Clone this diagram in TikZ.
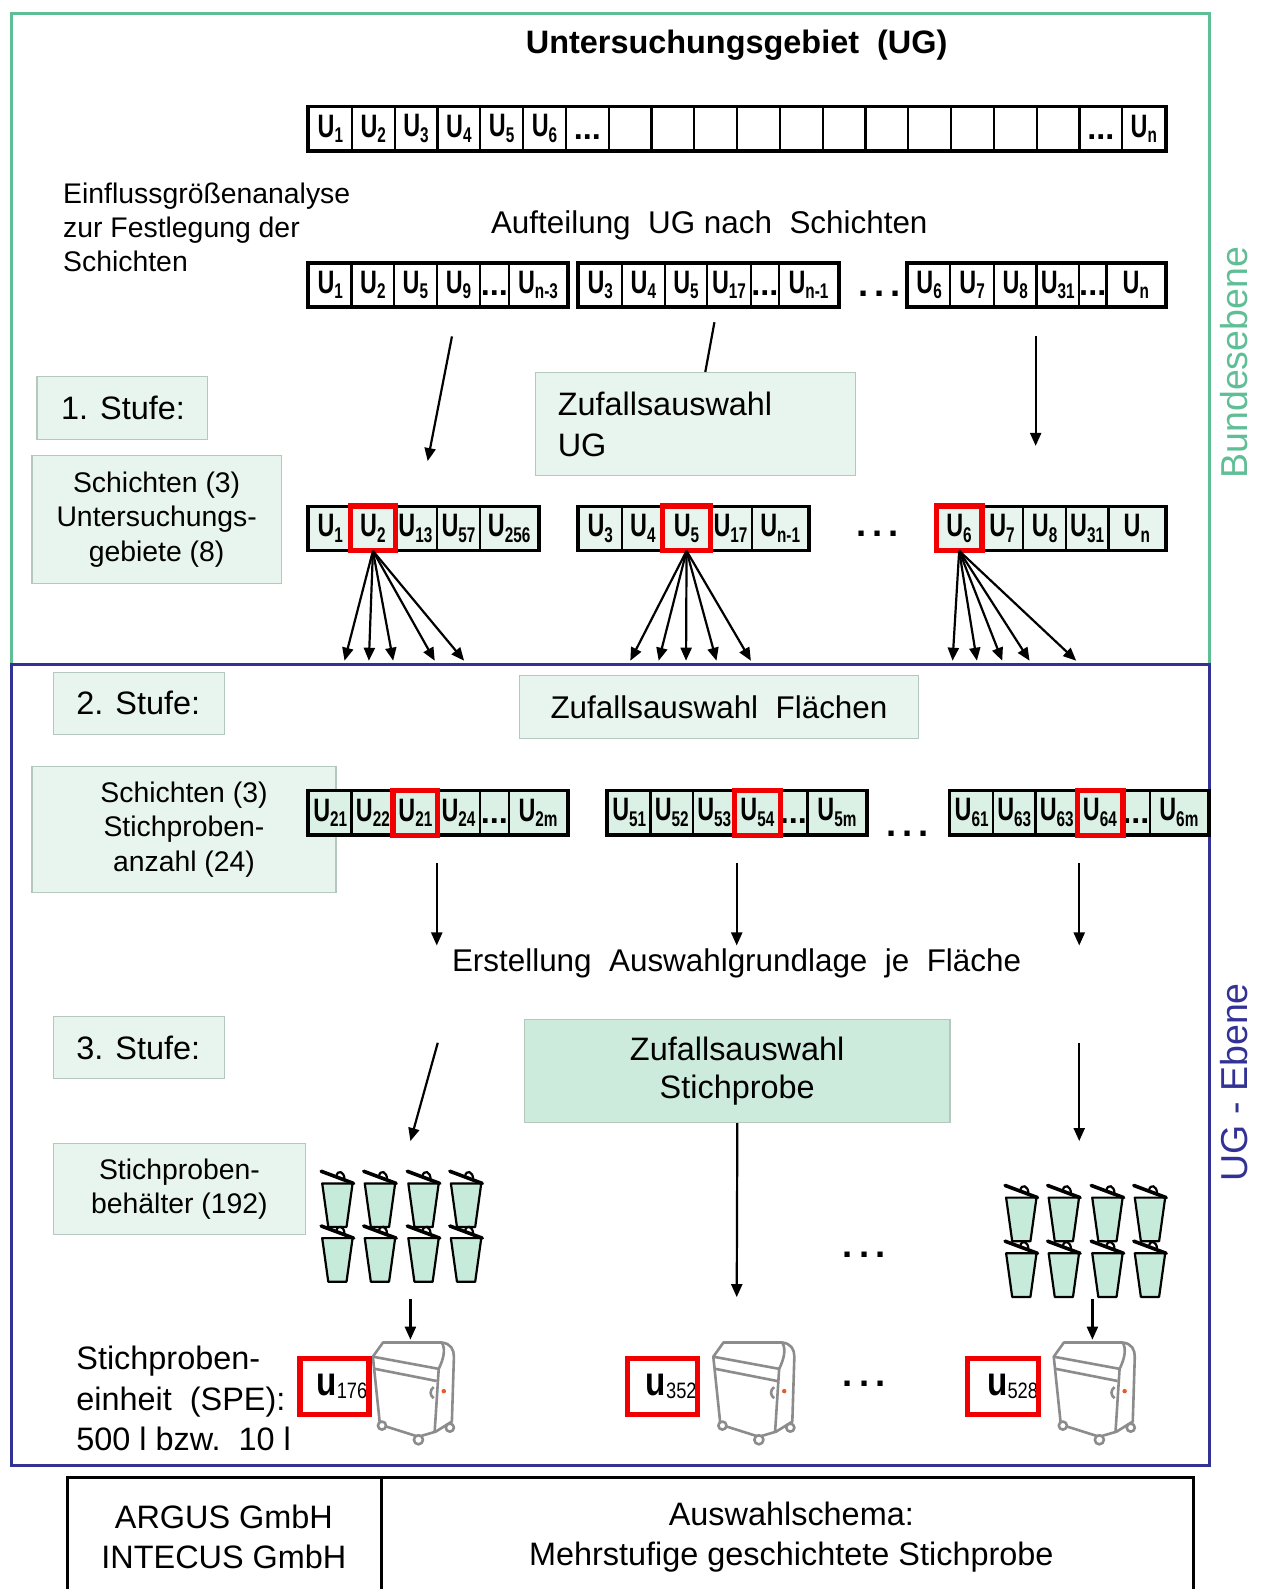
\documentclass[tikz,border=0pt]{standalone}
\usepackage{fontspec}
\setmainfont{Liberation Sans}
\usetikzlibrary{arrows.meta,positioning}

\definecolor{frameg}{RGB}{96,190,150}
\definecolor{frameb}{RGB}{50,50,150}
\definecolor{mintlt}{RGB}{232,245,238}
\definecolor{mint}{RGB}{220,241,229}
\definecolor{mintdk}{RGB}{205,235,221}
\definecolor{boxline}{RGB}{180,200,190}
\definecolor{binfill}{RGB}{198,235,218}
\definecolor{bingray}{RGB}{140,140,140}
\definecolor{binorange}{RGB}{230,90,40}
\definecolor{redbox}{RGB}{240,0,0}

% cell labels
\newcommand{\ucell}[1]{\scalebox{0.72}[1]{\bfseries U\raisebox{-0.32ex}{\fontsize{10.5}{10.5}\selectfont#1}}}
\newcommand{\celldots}{\textbf{\vphantom{U}...}}
\newcommand{\uspe}[1]{\scalebox{0.82}[1]{{\fontsize{20}{20}\selectfont\bfseries u}\raisebox{-0.3ex}{\fontsize{11}{11}\selectfont#1}}}
\newcommand{\bigdots}{.\hspace{3pt}.\hspace{3pt}.}
% one group of cells: name, y, style, list x/width/label
\newcommand{\cellgroup}[4]{%
  \foreach \cx/\cw/\clab [count=\ci] in {#4}
    {\node[cell, #3, minimum width=\cw*0.5pt] (#1\ci) at ({\cx+\cw/2},#2) {\clab};}%
}

\tikzset{
  cell/.style={draw, line width=1.1pt, minimum height=21pt, inner sep=0pt,
    font=\fontsize{16}{16}\selectfont},
  groupline/.style={line width=1.5pt},
  hl/.style={draw=redbox, line width=2.6pt},
  arr/.style={line width=1.1pt, -{Triangle[length=6.5pt,width=5.5pt]}},
  infobox/.style={fill=mintlt, draw=boxline, line width=0.6pt, inner sep=0pt,
    anchor=north west},
  dotsty/.style={font=\fontsize{18}{18}\selectfont\bfseries, inner sep=0pt},
  basket/.pic={
    \draw[line width=1.1pt, fill=binfill, line join=round]
      (-15,0) -- (15,0) -- (9,43) -- (-9,43) -- cycle;
    \draw[line width=1.8pt, line cap=round] (-16,-12) -- (16,0);
    \draw[line width=1.1pt] (-1,-7) .. controls (0,-14) and (7,-12) .. (7,-4);
  },
  wheelie/.pic={
    \begin{scope}[draw=bingray, line width=1.3pt, line join=round]
      \draw[fill=white] (2,16) -- (12,2) -- (70,2) .. controls (79,3) and (82,9) .. (82,16)
        -- (80,80) -- (64,90) -- (47,95) -- (9,83) -- cycle;
      \draw (2,16) -- (67,28);
      \draw (4,28) -- (65,40);
      \draw (67,28) .. controls (72,18) and (74,8) .. (70,2);
      \draw (67,28) -- (63,90);
      \draw (62,46) .. controls (58,49) and (58,54) .. (62,57);
      \fill[binorange] (72,50) circle (2.2);
      \draw[fill=white] (11,84) circle (4);
      \draw[fill=white] (47,98) circle (4.5);
      \draw[fill=white] (78,86) circle (4);
    \end{scope}
  }
}

\begin{document}
\begin{tikzpicture}[x=0.5pt,y=-0.5pt,scale=1.0132,transform shape]
  % frames of the two levels
  \draw[draw=frameg, line width=1.5pt] (11,13) rectangle (1194,656);
  \draw[draw=frameb, line width=1.5pt] (11,656) rectangle (1194,1446);
  \node[rotate=90, text=frameg, font=\fontsize{18.5}{18.5}\selectfont] (bund) at (1218,358) {Bundesebene};
  \node[rotate=90, text=frameb, font=\fontsize{18.5}{18.5}\selectfont] (ugeb) at (1218,1068) {UG - Ebene};

  % Untersuchungsgebiet
  \node[font=\fontsize{16}{16}\selectfont\bfseries] (title) at (727,45) {Untersuchungsgebiet\ \ (UG)};
  \foreach \lab [count=\i] in {\ucell{1},\ucell{2},\ucell{3},\ucell{4},\ucell{5},\ucell{6},\celldots,
      {},{},{},{},{},{},{},{},{},{},{},\celldots,\ucell{n}}
    \node[cell, minimum width=21.125pt] (ug\i) at ({305+42.25*(\i-0.5)},127) {\lab};
  \draw[groupline] (ug1.north west) rectangle (ug20.south east);

  % Schichten
  \node[anchor=west, inner sep=0pt, align=left, font=\fontsize{14}{16.75}\selectfont] (einfl) at (62,224.5)
    {Einflussgrößenanalyse\\zur Festlegung der\\Schichten};
  \node[font=\fontsize{15.5}{15.5}\selectfont] (aufteil) at (700,222) {Aufteilung\ \ UG nach\ \ Schichten};
  \cellgroup{sa}{281}{}{305/42/\ucell{1},347/42/\ucell{2},389/42/\ucell{5},431/43/\ucell{9},474/28/\celldots,502/58/\ucell{n-3}}
  \cellgroup{sb}{281}{}{571/43/\ucell{3},614/42/\ucell{4},656/42/\ucell{5},698/43/\ucell{17},741/28/\celldots,769/58/\ucell{n-1}}
  \cellgroup{sc}{281}{}{896/42/\ucell{6},938/43/\ucell{7},981/42/\ucell{8},1023/42/\ucell{31},1065/27/\celldots,1092/58/\ucell{n}}
  \draw[groupline] (sa1.north west) rectangle (sa6.south east);
  \draw[groupline] (sb1.north west) rectangle (sb6.south east);
  \draw[groupline] (sc1.north west) rectangle (sc6.south east);
  \node[dotsty] (dts1) at (868,290) {\bigdots};

  % 1. Stufe
  \node[infobox, minimum width=84pt, minimum height=31pt] (st1) at (36,371) {};
  \node[right=12pt of st1.west, inner sep=0pt, font=\fontsize{16}{16}\selectfont] (st1t) {1. Stufe:};
  \node[infobox, minimum width=158pt, minimum height=51pt] (zug) at (528,367) {};
  \node[right=11pt of zug.west, inner sep=0pt, align=left, font=\fontsize{16}{20}\selectfont] (zugt) {Zufallsauswahl\\UG};
  \node[infobox, minimum width=123pt, minimum height=63pt, align=center,
    font=\fontsize{14}{17}\selectfont] (sch1) at (31,449) {Schichten (3)\\Untersuchungs-\\gebiete (8)};
  \coordinate (a1s) at (446,332);
  \coordinate (a1e) at (422,455);
  \draw[arr] (a1s) -- (a1e);
  \coordinate (l1s) at (705,318);
  \coordinate (l1e) at (696,367);
  \draw[line width=1.1pt] (l1s) -- (l1e);
  \coordinate (a2s) at (1022,332);
  \coordinate (a2e) at (1022,440);
  \draw[arr] (a2s) -- (a2e);

  \cellgroup{ra}{521.5}{fill=mintlt}{305/42/\ucell{1},347/42/\ucell{2},389/42/\ucell{13},431/43/\ucell{57},474/57/\ucell{256}}
  \cellgroup{rb}{521.5}{fill=mintlt}{571/43/\ucell{3},614/41/\ucell{4},655/45/\ucell{5},700/42/\ucell{17},742/56/\ucell{n-1}}
  \cellgroup{rc}{521.5}{fill=mintlt}{925/43/\ucell{6},968/42/\ucell{7},1010/42/\ucell{8},1052/42/\ucell{31},1094/56/\ucell{n}}
  \draw[groupline] (ra1.north west) rectangle (ra5.south east);
  \draw[groupline] (rb1.north west) rectangle (rb5.south east);
  \draw[groupline] (rc1.north west) rectangle (rc5.south east);
  \draw[hl] (ra2.north west) rectangle (ra2.south east);
  \draw[hl] (rb3.north west) rectangle (rb3.south east);
  \draw[hl] (rc1.north west) rectangle (rc1.south east);
  \node[dotsty] (dts2) at (866,527) {\bigdots};

  % fans to the 2. Stufe
  \foreach \ex in {340,364,388,429,458}
    {\coordinate (fa\ex) at (\ex,652); \draw[arr] (ra2.south) -- (fa\ex);}
  \foreach \ex in {622,650,677,707,741}
    {\coordinate (fb\ex) at (\ex,652); \draw[arr] (rb3.south) -- (fb\ex);}
  \foreach \ex in {940,964,989,1016,1062}
    {\coordinate (fc\ex) at (\ex,652); \draw[arr] (rc1.south) -- (fc\ex);}

  % 2. Stufe
  \node[infobox, minimum width=84.5pt, minimum height=30.5pt] (st2) at (52,663) {};
  \node[right=11.5pt of st2.west, inner sep=0pt, font=\fontsize{16}{16}\selectfont] (st2t) {2. Stufe:};
  \node[infobox, minimum width=197pt, minimum height=31pt, font=\fontsize{15.5}{15.5}\selectfont] (zfl) at (512,666)
    {Zufallsauswahl\ \ Flächen};
  \node[infobox, minimum width=150pt, minimum height=62pt, align=center,
    font=\fontsize{14}{17}\selectfont] (sch2) at (31,756) {Schichten (3)\\Stichproben-\\anzahl (24)};

  \cellgroup{qa}{802}{fill=mint}{305/42/\ucell{21},347/42/\ucell{22},389/42/\ucell{21},431/43/\ucell{24},474/28/\celldots,502/58/\ucell{2m}}
  \cellgroup{qb}{802}{fill=mint}{600/42/\ucell{51},642/42/\ucell{52},684/42/\ucell{53},726/43/\ucell{54},769/28/\celldots,797/58/\ucell{5m}}
  \cellgroup{qc}{802}{fill=mint}{938/42/\ucell{61},980/42/\ucell{63},1022/42/\ucell{63},1064/43/\ucell{64},1107/28/\celldots,1135/57/\ucell{6m}}
  \draw[groupline] (qa1.north west) rectangle (qa6.south east);
  \draw[groupline] (qb1.north west) rectangle (qb6.south east);
  \draw[groupline] (qc1.north west) rectangle (qc6.south east);
  \draw[hl] (qa3.north west) rectangle (qa3.south east);
  \draw[hl] (qb4.north west) rectangle (qb4.south east);
  \draw[hl] (qc4.north west) rectangle (qc4.south east);
  \node[dotsty] (dts3) at (896,823) {\bigdots};

  \foreach \dx [count=\k] in {431,727,1065}
    {\coordinate (ds\k) at (\dx,852); \coordinate (de\k) at (\dx,933); \draw[arr] (ds\k) -- (de\k);}
  \node[font=\fontsize{15.5}{15.5}\selectfont] (erst) at (727,951) {Erstellung\ \ Auswahlgrundlage\ \ je\ \ Fläche};

  % 3. Stufe
  \node[infobox, minimum width=84.5pt, minimum height=30.5pt] (st3) at (52,1003) {};
  \node[right=11.5pt of st3.west, inner sep=0pt, font=\fontsize{16}{16}\selectfont] (st3t) {3. Stufe:};
  \node[infobox, fill=mintdk, minimum width=210pt, minimum height=50.5pt, align=center,
    font=\fontsize{16}{19}\selectfont] (zst) at (517,1006) {Zufallsauswahl\\Stichprobe};
  \node[infobox, minimum width=124.5pt, minimum height=45pt, align=center,
    font=\fontsize{14}{17}\selectfont] (beh) at (52,1128) {Stichproben-\\behälter (192)};

  \coordinate (b1s) at (432,1029);
  \coordinate (b1e) at (405,1126);
  \draw[arr] (b1s) -- (b1e);
  \coordinate (b2e) at (727,1280);
  \draw[arr] (zst.south) -- (b2e);
  \coordinate (b3s) at (1065,1029);
  \coordinate (b3e) at (1065,1126);
  \draw[arr] (b3s) -- (b3e);

  \foreach \bx in {333,375,418,460}
    \foreach \by in {1168,1222}
      \pic at (\bx,\by) {basket};
  \foreach \bx in {1008,1050,1093,1135}
    \foreach \by in {1182,1237}
      \pic at (\bx,\by) {basket};
  \node[dotsty] (dts4) at (853,1238) {\bigdots};

  \coordinate (c1s) at (405,1282);
  \coordinate (c1e) at (405,1322);
  \draw[arr] (c1s) -- (c1e);
  \coordinate (c3s) at (1078,1282);
  \coordinate (c3e) at (1078,1322);
  \draw[arr] (c3s) -- (c3e);

  % Stichprobeneinheiten
  \node[anchor=west, inner sep=0pt, align=left, font=\fontsize{16}{20}\selectfont] (spe) at (75,1380.5)
    {Stichproben-\\einheit\ \ (SPE):\\500 l bzw.\ \ 10 l};
  \pic at (366,1323) {wheelie};
  \pic at (702,1323) {wheelie};
  \pic at (1038,1323) {wheelie};
  \node[anchor=west, inner sep=0pt] (u176) at (312,1368) {\uspe{176}};
  \node[anchor=west, inner sep=0pt] (u352) at (637,1368) {\uspe{352}};
  \node[anchor=west, inner sep=0pt] (u528) at (974,1368) {\uspe{528}};
  \node[hl, anchor=north west, inner sep=0pt, minimum width=34pt, minimum height=27.5pt] (ub1) at (293.5,1338.5) {};
  \node[hl, anchor=north west, inner sep=0pt, minimum width=34.5pt, minimum height=27.5pt] (ub2) at (616.5,1338.5) {};
  \node[hl, anchor=north west, inner sep=0pt, minimum width=35pt, minimum height=27.5pt] (ub3) at (952.5,1338.5) {};
  \node[dotsty] (dts5) at (853,1366) {\bigdots};

  % footer
  \draw[line width=1.5pt] (67,1589) -- (67,1458) -- (1178,1458) -- (1178,1589);
  \draw[line width=1.5pt] (377,1458) -- (377,1589);
  \node[align=center, font=\fontsize{16}{20}\selectfont] (firm) at (221,1517) {ARGUS GmbH\\INTECUS GmbH};
  \node[align=center, font=\fontsize{16}{20}\selectfont] (schema) at (781,1517)
    {Auswahlschema:\\Mehrstufige\ geschichtete\ Stichprobe};

  % page size as the reference
  \pgfresetboundingbox
  \useasboundingbox (0,0) rectangle (1245.5,1568.3);
\end{tikzpicture}
\end{document}
